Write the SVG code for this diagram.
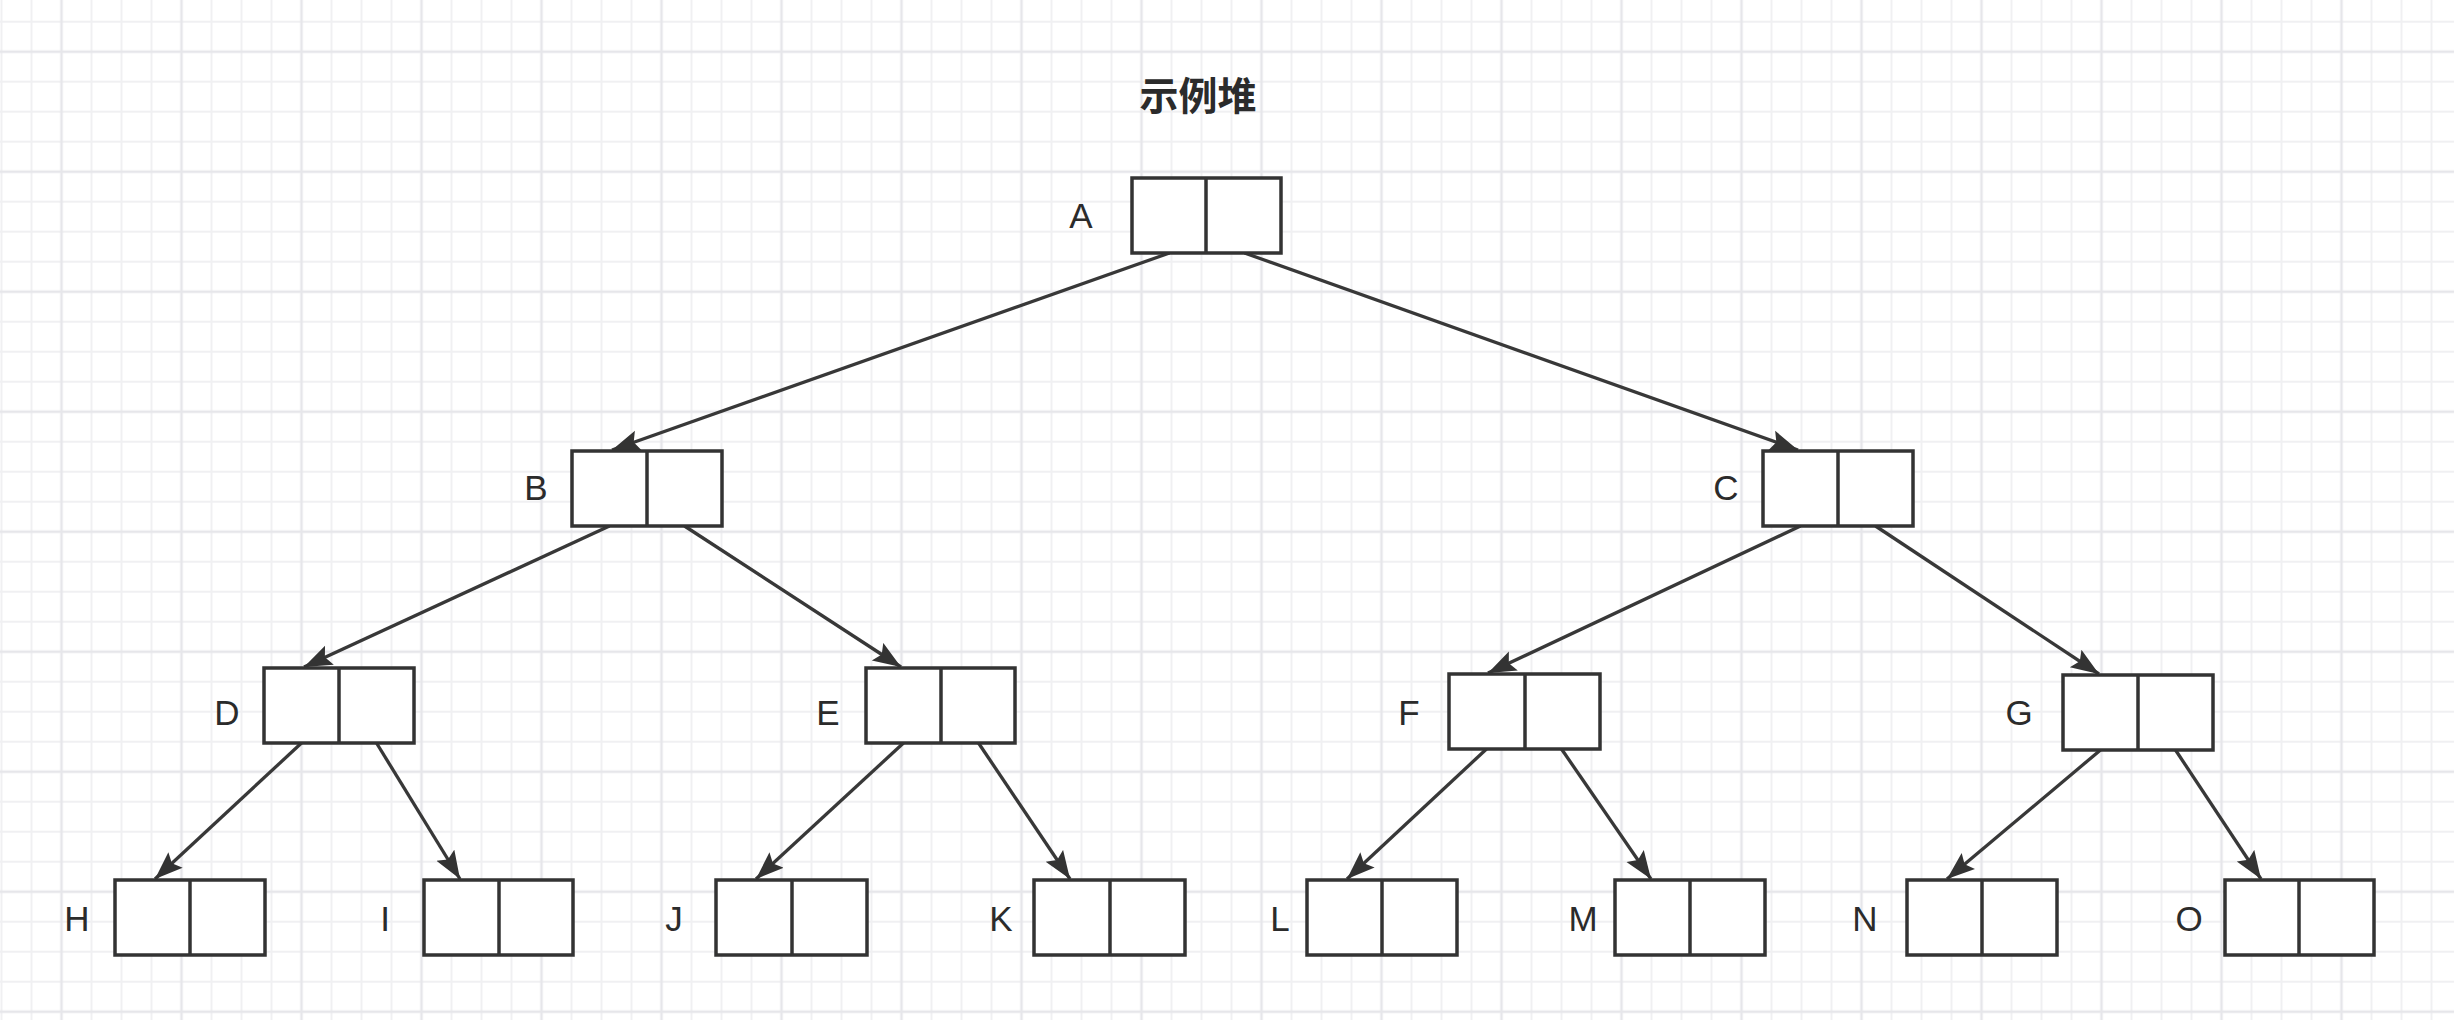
<svg xmlns="http://www.w3.org/2000/svg" width="2454" height="1020" viewBox="0 0 2454 1020">
  <defs>
    <pattern id="grid" patternUnits="userSpaceOnUse" x="-13.5" y="6.7" width="120" height="120">
      <rect width="120" height="120" fill="#ffffff"/>
      <path d="M15,0V120M45,0V120M105,0V120M0,15H120M0,75H120M0,105H120" stroke="#f0f0f2" stroke-width="2" fill="none"/>
      <path d="M75,0V120M0,45H120" stroke="#e6e6ea" stroke-width="2.5" fill="none"/>
    </pattern>
    <marker id="arrow" markerUnits="userSpaceOnUse" markerWidth="32" markerHeight="24" refX="28" refY="11" orient="auto" viewBox="0 0 32 24">
      <path d="M0,0.5 L28,11 L0,21.5 L5,11 Z" fill="#333333"/>
    </marker>
    <style>
      .cell { fill: #ffffff; stroke: #333333; stroke-width: 3.5; }
      .div { stroke: #333333; stroke-width: 3.5; }
      .lbl { font-family: "Liberation Sans", Arial, sans-serif; font-size: 35px; fill: #2b2b2b; text-anchor: middle; }
      .title { font-family: "Noto Sans CJK SC", "Noto Sans", sans-serif; font-size: 39px; font-weight: bold; fill: #2b2b2b; text-anchor: middle; }
      .edge { stroke: #383838; stroke-width: 3.3; fill: none; marker-end: url(#arrow); }
    </style>
  </defs>

  <rect x="0" y="0" width="2454" height="1020" fill="url(#grid)"/>

  <text id="title" class="title" x="1198" y="110">示例堆</text>

  <g id="connectors">
    <line class="edge" x1="1169.5" y1="253" x2="612" y2="450"/>
    <line class="edge" x1="1244.5" y1="253" x2="1798" y2="450"/>
    <line class="edge" x1="609.5" y1="526" x2="304" y2="667"/>
    <line class="edge" x1="684.5" y1="526" x2="901" y2="667"/>
    <line class="edge" x1="1800.5" y1="526" x2="1488" y2="673"/>
    <line class="edge" x1="1875.5" y1="526" x2="2099" y2="674"/>
    <line class="edge" x1="301.5" y1="743" x2="155" y2="879"/>
    <line class="edge" x1="376.5" y1="743" x2="460" y2="879"/>
    <line class="edge" x1="903.5" y1="743" x2="756" y2="879"/>
    <line class="edge" x1="978.5" y1="743" x2="1070" y2="879"/>
    <line class="edge" x1="1486.5" y1="749" x2="1347" y2="879"/>
    <line class="edge" x1="1561.5" y1="749" x2="1651" y2="879"/>
    <line class="edge" x1="2100.5" y1="750" x2="1947" y2="879"/>
    <line class="edge" x1="2175.5" y1="750" x2="2261" y2="879"/>
  </g>

  <g id="node-A"><rect class="cell" x="1132" y="178" width="149" height="75"/><line class="div" x1="1206" y1="178" x2="1206" y2="253"/><text class="lbl" x="1081" y="228">A</text></g>
  <g id="node-B"><rect class="cell" x="572" y="451" width="150" height="75"/><line class="div" x1="647" y1="451" x2="647" y2="526"/><text class="lbl" x="536" y="500">B</text></g>
  <g id="node-C"><rect class="cell" x="1763" y="451" width="150" height="75"/><line class="div" x1="1838" y1="451" x2="1838" y2="526"/><text class="lbl" x="1726" y="500">C</text></g>
  <g id="node-D"><rect class="cell" x="264" y="668" width="150" height="75"/><line class="div" x1="339" y1="668" x2="339" y2="743"/><text class="lbl" x="227" y="725">D</text></g>
  <g id="node-E"><rect class="cell" x="866" y="668" width="149" height="75"/><line class="div" x1="941" y1="668" x2="941" y2="743"/><text class="lbl" x="828" y="725">E</text></g>
  <g id="node-F"><rect class="cell" x="1449" y="674" width="151" height="75"/><line class="div" x1="1525" y1="674" x2="1525" y2="749"/><text class="lbl" x="1409" y="725">F</text></g>
  <g id="node-G"><rect class="cell" x="2063" y="675" width="150" height="75"/><line class="div" x1="2138" y1="675" x2="2138" y2="750"/><text class="lbl" x="2019" y="725">G</text></g>
  <g id="node-H"><rect class="cell" x="115" y="880" width="150" height="75"/><line class="div" x1="190" y1="880" x2="190" y2="955"/><text class="lbl" x="77" y="931">H</text></g>
  <g id="node-I"><rect class="cell" x="424" y="880" width="149" height="75"/><line class="div" x1="499" y1="880" x2="499" y2="955"/><text class="lbl" x="385" y="931">I</text></g>
  <g id="node-J"><rect class="cell" x="716" y="880" width="151" height="75"/><line class="div" x1="792" y1="880" x2="792" y2="955"/><text class="lbl" x="674" y="931">J</text></g>
  <g id="node-K"><rect class="cell" x="1034" y="880" width="151" height="75"/><line class="div" x1="1110" y1="880" x2="1110" y2="955"/><text class="lbl" x="1001" y="931">K</text></g>
  <g id="node-L"><rect class="cell" x="1307" y="880" width="150" height="75"/><line class="div" x1="1382" y1="880" x2="1382" y2="955"/><text class="lbl" x="1280" y="931">L</text></g>
  <g id="node-M"><rect class="cell" x="1615" y="880" width="150" height="75"/><line class="div" x1="1690" y1="880" x2="1690" y2="955"/><text class="lbl" x="1583" y="931">M</text></g>
  <g id="node-N"><rect class="cell" x="1907" y="880" width="150" height="75"/><line class="div" x1="1982" y1="880" x2="1982" y2="955"/><text class="lbl" x="1865" y="931">N</text></g>
  <g id="node-O"><rect class="cell" x="2225" y="880" width="149" height="75"/><line class="div" x1="2299" y1="880" x2="2299" y2="955"/><text class="lbl" x="2189" y="931">O</text></g>
</svg>
